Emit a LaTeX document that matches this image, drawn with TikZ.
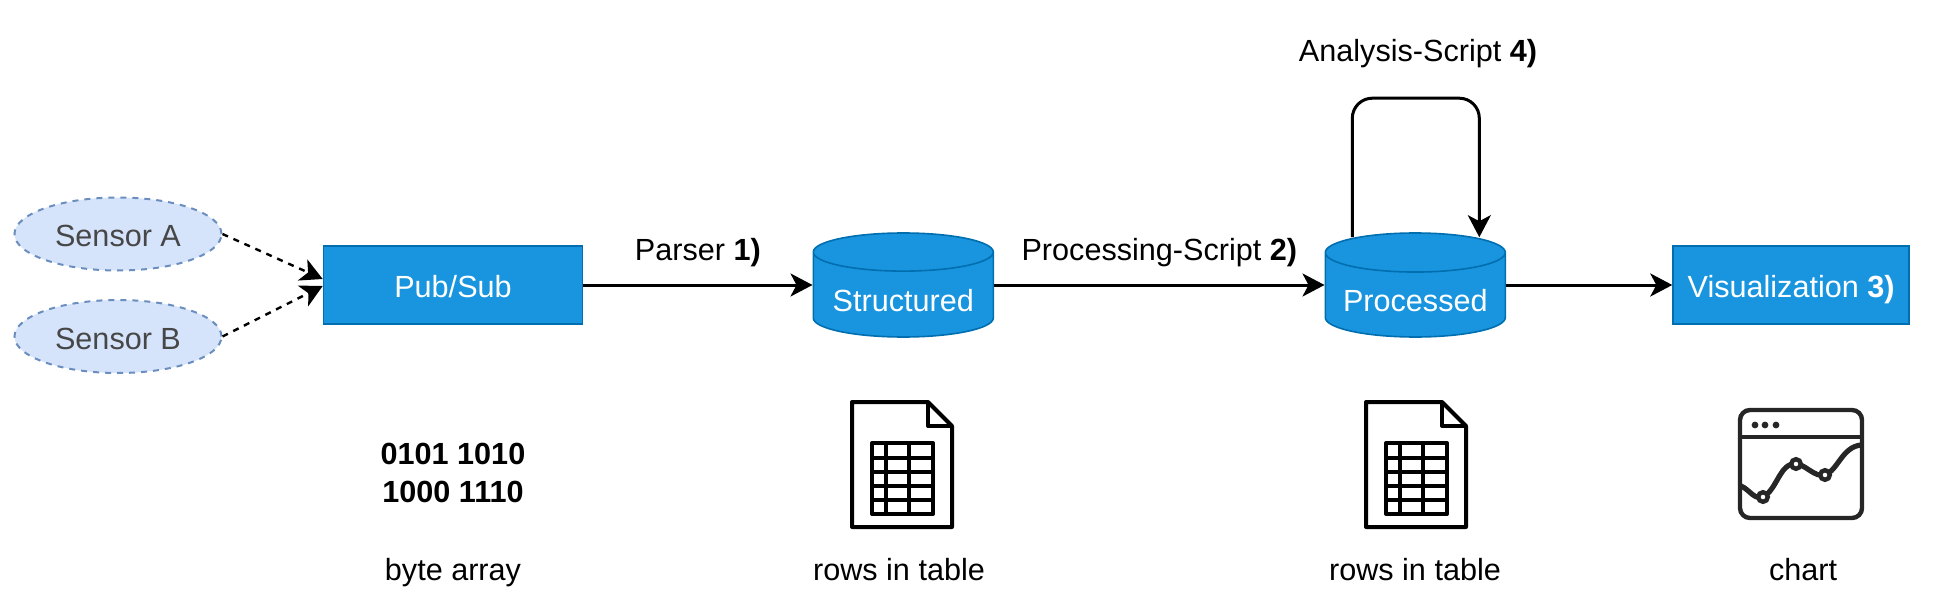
\documentclass[tikz,border=0pt]{standalone}
\usepackage{fontspec}
\setmainfont{Liberation Sans}
\usepackage{xcolor}
\usetikzlibrary{shapes.geometric, arrows.meta, positioning, calc}
\definecolor{boxfill}{HTML}{1995DF}
\definecolor{boxline}{HTML}{006EAF}
\definecolor{sensorfill}{HTML}{D5E4FB}
\definecolor{sensorline}{HTML}{6C8EBF}

\begin{document}
\begin{tikzpicture}
	[x=0.5pt, y=-0.5pt, >={Stealth[length=11pt, width=11.5pt, inset=3pt]},
	font=\fontsize{15.3}{18}\selectfont,
	box/.style={rectangle, draw=boxline, line width=0.8pt, fill=boxfill, text=white, inner sep=0pt, text height=12.8pt, text depth=0pt, minimum height=39pt, minimum width=129.5pt},
	store/.style={cylinder, shape border rotate=90, aspect=0.27, draw=boxline, line width=0.8pt, fill=boxfill, cylinder uses custom fill, cylinder body fill=boxfill, cylinder end fill=boxfill, text=white, inner sep=0pt, text height=16.5pt, text depth=0pt, minimum height=52pt, minimum width=90pt},
	sensor/.style={ellipse, draw=sensorline, dashed, line width=1pt, fill=sensorfill, text=black!72, inner sep=0pt, text height=13pt, text depth=0pt, minimum height=36.5pt, minimum width=103.5pt},
	note/.style={inner sep=0pt},
	flow/.style={->, line width=1.5pt},
	dashflow/.style={->, line width=1.2pt, dashed},
	tabledoc/.pic={
		\draw[line width=2pt, line join=round] (0,0) -- (76,0) -- (100,24) -- (100,125) -- (0,125) -- cycle;
		\draw[line width=2pt, line join=round] (76,0) -- (76,24) -- (100,24);
		\draw[line width=2pt, line join=round] (20,41) rectangle (81,112);
		\foreach \ypos in {56,70,84,98} \draw[line width=2pt] (20,\ypos) -- (81,\ypos);
		\foreach \xpos in {34,57} \draw[line width=2pt] (\xpos,41) -- (\xpos,112);
	}
	]
	\path[use as bounding box] (0,0) rectangle (1952,604);

	% Nodes
	\node[sensor] (sensora) at (118,234) {Sensor A};
	\node[sensor] (sensorb) at (118,336.5) {Sensor B};
	\node[box] (pubsub) at (453,285) {Pub/Sub};
	\node[store, right=160pt of pubsub, anchor=shape center] (structured) {Structured};
	\node[store, right=256pt of structured.shape center, anchor=shape center] (processed) {Processed};
	\node[box, right=128.5pt of processed.shape center, minimum width=118pt] (vis) {Visualization \textbf{3)}};

	% Arrows
	\draw[dashflow] (sensora.east) -- ([yshift=3pt]pubsub.west);
	\draw[dashflow] (sensorb.east) -- ([yshift=-0.5pt]pubsub.west);
	\draw[flow] (pubsub.east) -- (structured.west |- pubsub.east) node[midway, above, yshift=8.5pt, inner sep=0pt] (parserlabel) {Parser \textbf{1)}};
	\draw[flow] (structured.east |- pubsub.east) -- (processed.west |- pubsub.east) node[midway, above, yshift=8.5pt, inner sep=0pt] (scriptlabel) {Processing-Script \textbf{2)}};
	\draw[flow] (processed.east |- vis.west) -- (vis.west);

	% Loop on the processed store
	\coordinate (loopout) at ([shift={(-63,5)}]processed.north);
	\coordinate (loopin) at ([shift={(64,5)}]processed.north);
	\draw[flow, rounded corners=10pt] (loopout) -- ++(0,-139) -| (loopin);
	\node[note] (analysislabel) at (1418,54) {Analysis-Script \textbf{4)}};

	% Below the row
	\node[note, align=center, font=\fontsize{15.3}{19}\selectfont\bfseries] (bytes) at (453,473) {0101 1010\\1000 1110};
	\node[note] (bytetext) at (453,573) {byte array};
	\pic at (852,402) {tabledoc};
	\node[note] (rowsa) at (899,570) {rows in table};
	\pic at (1366,402) {tabledoc};
	\node[note] (rowsb) at (1415,570) {rows in table};
	\node[note] (charttext) at (1803,570) {chart};

	% Chart icon
	\draw[line width=2.2pt, black!85, rounded corners=5pt] (1740,410) rectangle (1862,518);
	\draw[line width=2.2pt, black!85] (1740,437) -- (1862,437);
	\foreach \xpos in {1755,1765,1776} \fill[black!85] (\xpos,425) circle (1.7pt);
	\draw[line width=2.6pt, black!85] (1741,486) .. controls (1750,490) and (1754,500) .. (1763,497) .. controls (1777,490) and (1780,462) .. (1796,464) .. controls (1805,464) and (1815,478) .. (1825,475) .. controls (1838,470) and (1842,447) .. (1861,445);
	\foreach \xpos/\ypos in {1763/497, 1796/464, 1825/475} \draw[line width=2.2pt, black!85, fill=white] (\xpos,\ypos) circle (2.4pt);
\end{tikzpicture}
\end{document}
